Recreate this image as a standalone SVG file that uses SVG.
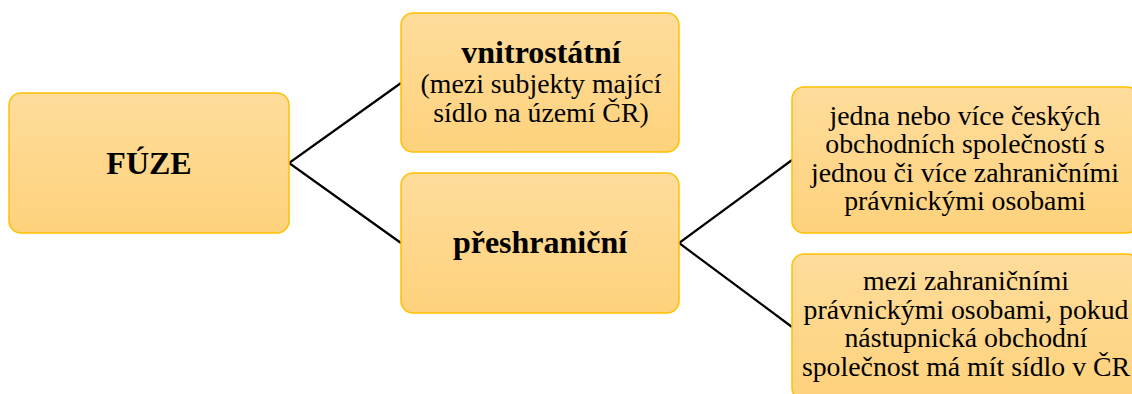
<svg xmlns="http://www.w3.org/2000/svg" width="1132" height="394" viewBox="0 0 1132 394">
<defs>
<linearGradient id="g" x1="0" y1="0" x2="0" y2="1">
<stop offset="0" stop-color="#FEDC9B"/>
<stop offset="1" stop-color="#FED27C"/>
</linearGradient>
<style>
.box{fill:url(#g);stroke:#FFC000;stroke-width:1.5}
.b{font-weight:bold;font-size:32px;fill:#000;text-anchor:middle}
.r{font-size:27.8px;fill:#000;text-anchor:middle}
.c{fill:none;stroke:#000;stroke-width:2.2}
</style>
</defs>
<rect width="1132" height="394" fill="#fff"/>
<g id="connectors">
<polyline class="c" points="401,83 289,163 401,243"/>
<polyline class="c" points="792,160 679,243 792,327"/>
</g>
<g font-family="'Liberation Serif', 'Times New Roman', serif">
<g id="fuze">
<rect class="box" x="9" y="93" width="280" height="140" rx="12"/>
<text class="b" x="149" y="174">FÚZE</text>
</g>
<g id="vnitrostatni">
<rect class="box" x="401" y="13" width="278" height="139" rx="12"/>
<text class="b" x="541" y="63">vnitrostátní</text>
<text class="r" x="541" y="93">(mezi subjekty mající</text>
<text class="r" x="541" y="122">sídlo na území ČR)</text>
</g>
<g id="preshranicni">
<rect class="box" x="401" y="173" width="278" height="140" rx="12"/>
<text class="b" x="540" y="253">přeshraniční</text>
</g>
<g id="cesk">
<rect class="box" x="792" y="87" width="347" height="146" rx="12"/>
<text class="r" x="965" y="125">jedna nebo více českých</text>
<text class="r" x="965" y="153">obchodních společností s</text>
<text class="r" x="965" y="182">jednou či více zahraničními</text>
<text class="r" x="965" y="210">právnickými osobami</text>
</g>
<g id="zahr">
<rect class="box" x="792" y="254" width="347" height="146" rx="12"/>
<text class="r" x="966" y="290">mezi zahraničními</text>
<text class="r" x="966" y="319">právnickými osobami, pokud</text>
<text class="r" x="966" y="347">nástupnická obchodní</text>
<text class="r" x="966" y="376">společnost má mít sídlo v ČR</text>
</g>
</g>
</svg>
